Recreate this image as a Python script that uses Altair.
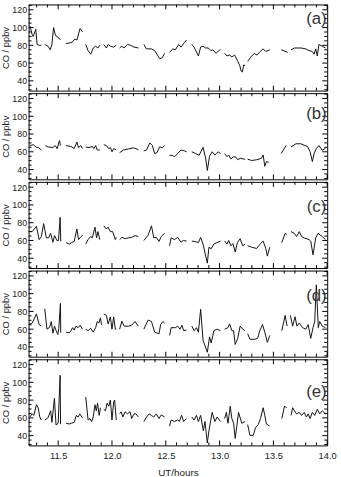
import altair as alt
import pandas as pd

FONT = "Liberation Sans"

# ---------------- data: UT (hours) and CO (ppbv), one list per segment ----------------
a_t = [
    [11.237, 11.259, 11.268, 11.292, 11.304, 11.323, 11.344],
    [11.375, 11.405, 11.426, 11.442, 11.457, 11.475, 11.491, 11.521],
    [11.573, 11.619, 11.634, 11.655, 11.674, 11.704, 11.726],
    [11.756, 11.778, 11.802, 11.826, 11.848, 11.869, 11.887],
    [11.924, 11.948, 11.964, 11.985, 12.016, 12.040],
    [12.071, 12.092, 12.113, 12.144, 12.174, 12.205, 12.245],
    [12.296, 12.321, 12.367, 12.397, 12.443, 12.467, 12.489],
    [12.535, 12.565, 12.589, 12.620, 12.641, 12.672, 12.693],
    [12.742, 12.763, 12.803, 12.824, 12.846, 12.870, 12.895, 12.919, 12.937, 12.968, 12.992, 13.008],
    [13.047, 13.069, 13.090, 13.114, 13.139, 13.169, 13.188, 13.200, 13.212, 13.224, 13.237],
    [13.261, 13.292, 13.322, 13.347, 13.377, 13.405, 13.429, 13.466],
    [13.572, 13.633],
    [13.664, 13.695, 13.756, 13.801, 13.832, 13.862, 13.878, 13.893, 13.908, 13.923, 13.954, 13.984],
]
a_v = [
    [102, 92, 90, 98, 81, 80, 80],
    [81, 79, 75, 81, 100, 91, 90, 86],
    [82, 83, 84, 87, 86, 99, 95],
    [81, 74, 70, 77, 79, 77, 80],
    [81, 77, 81, 79, 78, 80],
    [77, 79, 77, 81, 80, 78, 77],
    [81, 76, 76, 74, 65, 66, 71],
    [72, 76, 75, 81, 78, 83, 86],
    [81, 78, 68, 78, 79, 77, 77, 74, 75, 71, 74, 75],
    [71, 68, 69, 67, 69, 62, 57, 51, 50, 58, 57],
    [62, 67, 71, 69, 73, 76, 73, 75],
    [75, 72],
    [75, 77, 77, 76, 74, 73, 70, 76, 68, 81, 79, 77],
]

b_t = [
    [11.237, 11.268, 11.298, 11.314, 11.338, 11.344],
    [11.381, 11.405, 11.451, 11.472, 11.491, 11.512, 11.521],
    [11.573, 11.619, 11.649, 11.674, 11.689, 11.710, 11.726],
    [11.756, 11.787, 11.817, 11.832, 11.848, 11.863, 11.887],
    [11.924, 11.948, 11.970, 11.985, 12.000, 12.016, 12.040],
    [12.071, 12.107, 12.153, 12.199, 12.245],
    [12.296, 12.321, 12.351, 12.375, 12.397, 12.418, 12.443, 12.467, 12.489],
    [12.535, 12.559, 12.580, 12.611, 12.641, 12.672, 12.693],
    [12.742, 12.779, 12.809, 12.846, 12.870, 12.886, 12.907, 12.931, 12.956, 12.986, 13.008],
    [13.047, 13.069, 13.084, 13.105, 13.130, 13.151, 13.169, 13.191, 13.237],
    [13.261, 13.298, 13.344, 13.389, 13.405, 13.420, 13.435, 13.457],
    [13.572, 13.618],
    [13.664, 13.710, 13.756, 13.792, 13.817, 13.841, 13.862, 13.878, 13.899, 13.923, 13.954, 13.984],
]
b_v = [
    [67, 68, 65, 65, 62.5, 62],
    [67, 65.5, 64.7, 67, 63.6, 72.7, 67],
    [67, 66, 63.6, 71, 64.7, 67, 63.6],
    [65.5, 64.7, 66, 63.6, 67, 62, 62],
    [68, 67, 63.6, 64.7, 60, 63.6, 62],
    [59, 62, 63.3, 64.4, 62.5],
    [61, 62, 70, 67, 58, 59, 65.5, 64.4, 67],
    [56, 56, 54.5, 58, 62, 61, 60],
    [60, 58, 56, 65, 53, 39, 55, 60, 56.4, 60, 58],
    [58, 54.5, 56.4, 52, 54.5, 54, 51, 52.7, 51.6],
    [51.6, 50.2, 51, 52.7, 56.4, 43.6, 49, 48],
    [58, 67],
    [65.5, 69, 69, 67, 66, 60, 49, 58, 63.6, 67, 61.8, 63.6],
]

c_t = [
    [11.228, 11.259, 11.298, 11.323, 11.344, 11.365, 11.390, 11.411, 11.430, 11.451, 11.466, 11.488, 11.503, 11.518, 11.524],
    [11.573, 11.604, 11.625, 11.649, 11.674, 11.689, 11.704, 11.726],
    [11.756, 11.778, 11.802, 11.817, 11.842, 11.857, 11.869, 11.887],
    [11.924, 11.948, 11.964, 11.985, 12.006, 12.031, 12.040],
    [12.071, 12.092, 12.122, 12.153, 12.183, 12.214, 12.245],
    [12.296, 12.336, 12.367, 12.388, 12.412, 12.437, 12.458, 12.489],
    [12.535, 12.550, 12.580, 12.611, 12.641, 12.663, 12.693],
    [12.742, 12.779, 12.803, 12.824, 12.846, 12.886, 12.901, 12.922, 12.947, 12.977, 13.008],
    [13.047, 13.069, 13.084, 13.105, 13.124, 13.145, 13.166, 13.191, 13.215, 13.237],
    [13.261, 13.298, 13.344, 13.380, 13.405, 13.429, 13.444, 13.466],
    [13.578, 13.609, 13.624],
    [13.664, 13.695, 13.716, 13.740, 13.762, 13.786, 13.832, 13.847, 13.868, 13.893, 13.914, 13.954, 13.984],
]
c_v = [
    [70, 70, 76, 61, 64.5, 79, 63, 63, 68, 58, 65.5, 60, 60, 86, 59],
    [57.6, 56, 57.6, 59, 73, 61, 63, 66],
    [56, 61, 64.5, 63, 75, 63, 70, 61],
    [76.5, 73, 75, 70, 70, 61, 63.5],
    [61, 63.5, 62, 63, 63.5, 65.5, 64.5],
    [60, 66, 76.5, 63, 63.5, 59, 64.5, 68],
    [54, 63, 61, 63.5, 58, 60, 59.3],
    [59.3, 58.6, 57.6, 63.5, 56, 34.5, 52.4, 50.7, 56, 57.6, 59.3],
    [59.3, 56, 60, 54, 56.5, 47, 57.6, 62, 54, 56],
    [54, 52.4, 51, 56.5, 59.3, 51, 42.4, 52.4],
    [57.6, 68, 67],
    [70, 68, 64.5, 70, 64.5, 62.8, 61, 59.3, 43.8, 62.8, 68, 64.5, 61],
]

d_t = [
    [11.228, 11.259, 11.298, 11.323, 11.344],
    [11.375, 11.396, 11.420, 11.436, 11.451, 11.466, 11.481, 11.497, 11.506, 11.521, 11.524],
    [11.573, 11.604, 11.619, 11.634, 11.649, 11.665, 11.686, 11.704, 11.726],
    [11.756, 11.778, 11.802, 11.826, 11.848, 11.863, 11.878, 11.893, 11.903],
    [11.924, 11.948, 11.964, 11.985, 12.000, 12.016, 12.031, 12.040],
    [12.071, 12.092, 12.113, 12.153, 12.183, 12.214, 12.245],
    [12.296, 12.336, 12.367, 12.397, 12.437, 12.452, 12.473, 12.489],
    [12.535, 12.550, 12.589, 12.611, 12.632, 12.650, 12.666, 12.693],
    [12.742, 12.763, 12.785, 12.803, 12.824, 12.846, 12.886, 12.907, 12.922, 12.947, 12.977, 13.008],
    [13.047, 13.078, 13.093, 13.114, 13.130, 13.145, 13.169, 13.191, 13.215, 13.237],
    [13.261, 13.282, 13.328, 13.353, 13.374, 13.399, 13.420, 13.444, 13.466],
    [13.578, 13.609, 13.627],
    [13.658, 13.679, 13.701, 13.719, 13.740, 13.771, 13.801, 13.823, 13.847, 13.868, 13.884, 13.899, 13.917, 13.930, 13.954, 13.984],
]
d_v = [
    [65.2, 66.9, 77.2, 65.2, 63.4],
    [83, 60, 62, 68.6, 55.5, 63.4, 58.3, 54, 61, 89, 56],
    [56.6, 55.9, 58.3, 61.7, 59, 63.4, 61.7, 64.5, 60],
    [60, 58.3, 61, 56.6, 61.7, 68.6, 66.9, 72.8, 65],
    [77.2, 75.5, 66, 73.8, 60, 73.8, 60, 60],
    [60, 69, 63.4, 63.4, 64.5, 68.6, 63.4],
    [60, 70.3, 68.6, 56.6, 54.8, 65.2, 68.6, 66.9],
    [53, 61.7, 61.7, 63.4, 60, 64.5, 58.3, 59],
    [63.4, 58.3, 61.7, 56.6, 82.4, 47.6, 34, 51.4, 44.5, 58.3, 60, 58.3],
    [60, 61.7, 66, 58.3, 58.3, 42.8, 49.7, 63.4, 60, 58.3],
    [54.8, 48.6, 48.6, 49.7, 58.3, 65.2, 56.6, 45.2, 53],
    [58.3, 75.5, 63.4],
    [75.5, 63.4, 74, 63.4, 66.9, 61.7, 60, 65.2, 49.7, 61.7, 68.6, 110, 61.7, 68.6, 63.4, 61.7],
]

e_t = [
    [11.237, 11.259, 11.274, 11.298, 11.314, 11.329, 11.344],
    [11.375, 11.405, 11.430, 11.442, 11.465, 11.480, 11.500, 11.518, 11.522],
    [11.573, 11.604, 11.625, 11.649, 11.668, 11.686, 11.701, 11.726],
    [11.756, 11.778, 11.796, 11.811, 11.826, 11.842, 11.854, 11.866, 11.881, 11.893],
    [11.924, 11.939, 11.955, 11.970, 11.985, 12.000, 12.016, 12.025, 12.040],
    [12.071, 12.086, 12.101, 12.122, 12.144, 12.168, 12.183, 12.205, 12.223, 12.245],
    [12.296, 12.321, 12.345, 12.367, 12.388, 12.412, 12.437, 12.458, 12.489],
    [12.535, 12.550, 12.580, 12.611, 12.626, 12.647, 12.666, 12.693],
    [12.742, 12.763, 12.785, 12.803, 12.824, 12.849, 12.864, 12.886, 12.901, 12.931, 12.956, 12.977, 13.008],
    [13.047, 13.063, 13.078, 13.099, 13.114, 13.130, 13.145, 13.160, 13.176, 13.206, 13.237],
    [13.261, 13.282, 13.313, 13.334, 13.359, 13.380, 13.405, 13.420, 13.435, 13.466],
    [13.578, 13.603, 13.624],
    [13.664, 13.679, 13.695, 13.716, 13.740, 13.762, 13.786, 13.807, 13.823, 13.841, 13.862, 13.884, 13.908, 13.930, 13.954, 13.984],
]
e_v = [
    [61, 64.5, 62.8, 74.8, 71.4, 61, 57.6],
    [57.6, 60, 68, 55, 82, 52, 54, 108, 53],
    [54, 53.1, 54, 55, 62.8, 61, 64.5, 60],
    [83.4, 57.6, 59.3, 55.9, 61, 74.8, 68, 76.6, 62.8, 71.4],
    [69.7, 68, 76.6, 73.1, 80, 57.6, 78, 80, 57.6],
    [64.5, 66.9, 61, 66.9, 64.5, 66.9, 59.3, 64.5, 64.5, 61],
    [55.9, 61, 64.5, 62.8, 61, 64.5, 59.3, 63.4, 61],
    [50.7, 57.6, 55.9, 57.6, 55.9, 62.8, 55.9, 59.3],
    [61, 57.6, 62.8, 55.9, 62.8, 45.5, 55.9, 31.7, 45.5, 66.2, 55.9, 61, 55.9],
    [59.3, 66.2, 54, 73.1, 59.3, 54, 36.9, 50.7, 66.2, 54, 55.9],
    [52.4, 40.3, 40.3, 49, 52.4, 59.3, 71.4, 62.8, 53.1, 50.7],
    [59.3, 73.1, 71.4],
    [62.8, 71.4, 68, 64.5, 66.2, 62.8, 66.2, 61, 64.5, 59.3, 66.2, 62.8, 69.7, 64.5, 68, 64.5],
]

panel_names = ["(a)", "(b)", "(c)", "(d)", "(e)"]
label_t = [13.90, 13.90, 13.90, 13.90, 13.90]
label_v = [109, 102, 98, 97, 89]

y_major = [40, 60, 80, 100, 120]
y_minor = [30, 35, 45, 50, 55, 65, 70, 75, 85, 90, 95, 105, 110, 115, 125]
x_major = [11.5, 12.0, 12.5, 13.0, 13.5, 14.0]
x_minor = [11.3, 11.4, 11.6, 11.7, 11.8, 11.9, 12.1, 12.2, 12.3, 12.4, 12.6, 12.7,
           12.8, 12.9, 13.1, 13.2, 13.3, 13.4, 13.6, 13.7, 13.8, 13.9]

X_DOMAIN = [11.225, 14.0]
Y_DOMAIN = [29, 126]
W = 303
H = 87.4
MAJ = 5
MIN = 3

all_t = [a_t, b_t, c_t, d_t, e_t]
all_v = [a_v, b_v, c_v, d_v, e_v]


def panel(i, bottom):
    rows = []
    for s, (ts, vs) in enumerate(zip(all_t[i], all_v[i])):
        for t, v in zip(ts, vs):
            rows.append({"t": t, "v": v, "seg": s})
    df = pd.DataFrame(rows)

    xscale = alt.Scale(domain=X_DOMAIN, nice=False, zero=False)
    yscale = alt.Scale(domain=Y_DOMAIN, nice=False, zero=False)
    if bottom:
        xaxis = alt.Axis(values=x_major, format=".1f", title="UT/hours", labelFontSize=9.5,
                         titleFontSize=10, labelPadding=5, titlePadding=8,
                         labelFlush=False)
    else:
        xaxis = None
    yaxis = alt.Axis(values=y_major, title="CO / ppbv", labelFontSize=9, titleFontSize=9.5,
                     labelPadding=2, titlePadding=1)
    X = alt.X("t:Q", scale=xscale, axis=xaxis)
    Y = alt.Y("v:Q", scale=yscale, axis=yaxis)

    line = alt.Chart(df).mark_line(color="#111", strokeWidth=1, clip=True).encode(
        x=X, y=Y, detail="seg:N")

    ymaj = pd.DataFrame({"v": y_major})
    ymin = pd.DataFrame({"v": y_minor})
    xmaj = pd.DataFrame({"t": x_major})
    xmin = pd.DataFrame({"t": x_minor})
    rule = dict(color="black", strokeWidth=1)
    layers = [line]
    for d, ln in ((ymaj, MAJ), (ymin, MIN)):
        layers.append(alt.Chart(d).mark_rule(**rule).encode(y=Y, x=alt.value(0), x2=alt.value(ln)))
        layers.append(alt.Chart(d).mark_rule(**rule).encode(y=Y, x=alt.value(W), x2=alt.value(W - ln)))
    for d, ln in ((xmaj, MAJ), (xmin, MIN)):
        layers.append(alt.Chart(d).mark_rule(**rule).encode(x=X, y=alt.value(0), y2=alt.value(ln)))
        layers.append(alt.Chart(d).mark_rule(**rule).encode(x=X, y=alt.value(H), y2=alt.value(H - ln)))

    lab = pd.DataFrame({"t": [label_t[i]], "v": [label_v[i]], "lab": [panel_names[i]]})
    layers.append(alt.Chart(lab).mark_text(font=FONT, fontSize=17, color="#333").encode(
        x=X, y=Y, text="lab:N"))

    return alt.layer(*layers).properties(width=W, height=H)


chart = alt.vconcat(*[panel(i, i == 4) for i in range(5)], spacing=0).properties(
    padding={"left": 0, "top": 0, "right": 4, "bottom": 1}
).configure_view(stroke="black", strokeWidth=1).configure_axis(
    domain=False, ticks=False, grid=False, labelFont=FONT, titleFont=FONT,
    labelColor="#222", titleColor="#222", titleFontWeight="normal"
)

chart.save("out.html", embed_options={"renderer": "svg", "actions": False})
